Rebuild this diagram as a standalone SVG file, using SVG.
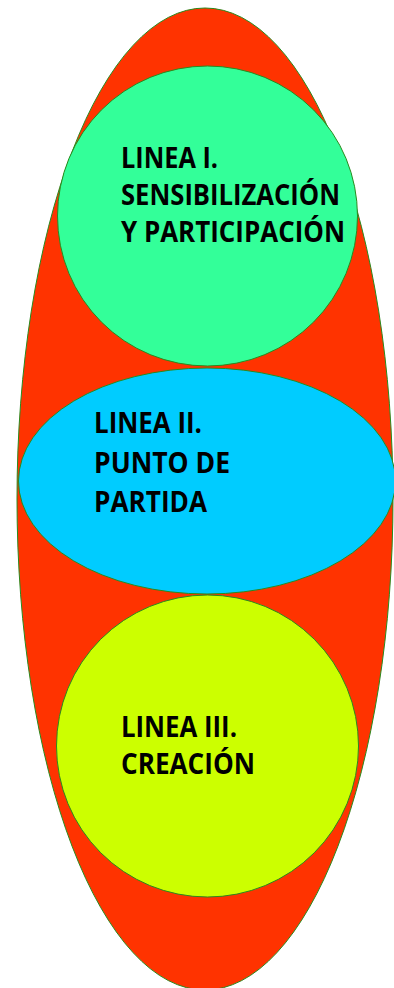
<svg xmlns="http://www.w3.org/2000/svg" width="394" height="988" viewBox="0 0 394 988">
<style>
.s{stroke:#2a8a1e;stroke-width:1}
.t{font-family:"Open Sans","Liberation Sans",Arial,sans-serif;font-weight:bold;font-size:28px;fill:#000}
</style>
<g id="outer"><ellipse class="s" cx="205" cy="499" rx="188" ry="491" fill="#FF3300"/></g>
<g id="linea1">
<circle class="s" cx="207.5" cy="216" r="150" fill="#33FF99"/>
<text class="t" x="121" y="168" textLength="97" lengthAdjust="spacingAndGlyphs">LINEA I.</text>
<text class="t" x="121" y="205" textLength="219" lengthAdjust="spacingAndGlyphs">SENSIBILIZACIÓN</text>
<text class="t" x="121" y="242" textLength="224" lengthAdjust="spacingAndGlyphs">Y PARTICIPACIÓN</text>
</g>
<g id="linea2">
<ellipse class="s" cx="207" cy="481" rx="188.5" ry="113" fill="#00CCFF"/>
<text class="t" x="94" y="433" textLength="108" lengthAdjust="spacingAndGlyphs">LINEA II.</text>
<text class="t" x="94" y="473" textLength="136" lengthAdjust="spacingAndGlyphs">PUNTO DE</text>
<text class="t" x="94" y="512" textLength="113" lengthAdjust="spacingAndGlyphs">PARTIDA</text>
</g>
<g id="linea3">
<circle class="s" cx="207.5" cy="746" r="151" fill="#CCFF00"/>
<text class="t" x="121" y="737" textLength="116" lengthAdjust="spacingAndGlyphs">LINEA III.</text>
<text class="t" x="121" y="774" textLength="134" lengthAdjust="spacingAndGlyphs">CREACIÓN</text>
</g>
<g id="connectors"/>
</svg>
